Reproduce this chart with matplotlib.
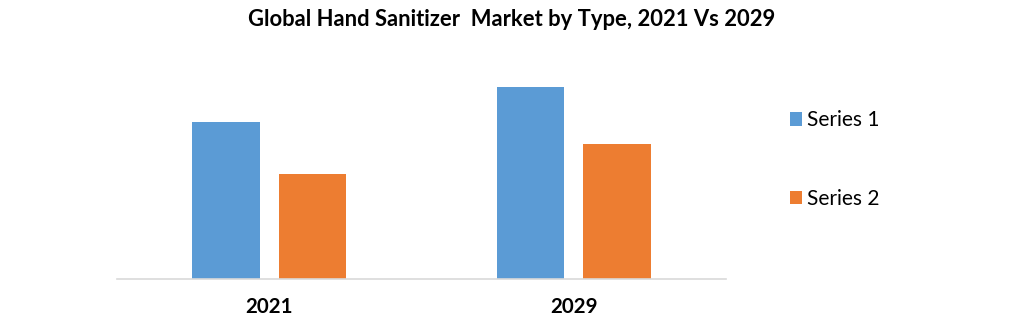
import matplotlib
matplotlib.use("Agg")
import matplotlib.pyplot as plt
import numpy as np

categories = ["2021", "2029"]
series1 = [157, 192]
series2 = [105, 135]
series_names = ["Series 1", "Series 2"]
title = "Global Hand Sanitizer  Market by Type, 2021 Vs 2029"

W, H = 1031, 322
fig = plt.figure(figsize=(W / 100, H / 100), dpi=100)
ax = fig.add_axes([117 / W, (H - 279) / H, 609 / W, 200 / H])

x = np.arange(len(categories))
bw = 0.223
b1 = ax.bar(x - 0.142, series1, bw, color="#5b9bd5", label=series_names[0])
b2 = ax.bar(x + 0.142, series2, bw, color="#ed7d31", label=series_names[1])

ax.set_xlim(-0.5, 1.5)
ax.set_ylim(0, 200)
for s in ["top", "right", "left"]:
    ax.spines[s].set_visible(False)
ax.spines["bottom"].set_color("#d9d9d9")
ax.spines["bottom"].set_linewidth(1.2)
ax.set_yticks([])
ax.set_xticks(x)
ax.set_xticklabels(categories, fontfamily="Lato", fontweight="bold", fontsize=14.8, color="#000000")
ax.tick_params(axis="x", length=0, pad=13)

fig.text(512 / W, 1 - 20 / H, title, ha="center", va="center",
         fontfamily="Lato", fontweight="bold", fontsize=15.8, color="#000000")

leg = fig.legend(handles=[b1, b2], labels=series_names, loc="center left",
                 bbox_to_anchor=(771 / W, 1 - 159.5 / H), frameon=False,
                 prop={"family": "Lato", "size": 15}, handlelength=0.6, handleheight=0.6,
                 handletextpad=0.25, labelspacing=2.8)
for t in leg.get_texts():
    t.set_color("#000000")

fig.savefig("out.png", dpi=100)
